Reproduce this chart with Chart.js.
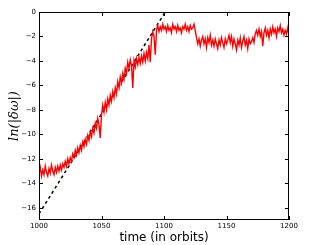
<!DOCTYPE html>
<html>
<head>
<meta charset="utf-8">
<script src="https://cdn.jsdelivr.net/npm/chart.js@4/dist/chart.umd.min.js"></script>
<style>
html,body{margin:0;padding:0;background:#fff;}
#c{display:block;}
</style>
</head>
<body>
<canvas id="c" width="325" height="245"></canvas>
<script>
// ---- data ----
const startOrbit = 1000;
const lnDeltaOmega = [
 -13.2,-12.7,-13.4,-12.9,-13.3,-12.6,-13.1,-13.4,-12.8,-13.2,
 -12.5,-13.0,-13.3,-12.7,-13.1,-12.6,-13.0,-12.5,-12.9,-12.4,
 -12.7,-12.2,-12.6,-12.0,-12.4,-11.9,-12.2,-11.6,-11.9,-11.3,
 -11.7,-11.1,-11.5,-10.9,-11.3,-10.6,-11.0,-10.4,-10.8,-10.1,
 -10.5,-9.8,-10.2,-9.5,-9.9,-9.1,-9.5,-8.7,-9.2,-10.3,
 -8.4,-7.6,-8.2,-7.4,-8.0,-7.1,-7.6,-6.8,-7.3,-6.5,
 -7.0,-6.2,-6.7,-5.7,-6.2,-5.3,-5.8,-5.0,-5.5,-4.6,
 -5.0,-4.1,-4.6,-3.9,-4.4,-6.2,-4.0,-4.5,-3.8,-4.3,
 -3.7,-4.2,-3.6,-4.1,-3.4,-4.0,-3.3,-3.8,-2.7,-4.1,
 -2.2,-1.6,-2.0,-3.5,-1.5,-1.1,-1.6,-1.2,-1.5,-1.0,
 -1.4,-1.2,-1.6,-1.1,-1.5,-1.3,-1.7,-1.0,-1.4,-1.2,
 -1.6,-1.1,-1.5,-1.3,-1.7,-1.2,-1.4,-1.0,-1.5,-1.2,
 -1.6,-1.1,-1.4,-1.3,-1.0,-1.5,-2.1,-2.6,-2.2,-2.8,
 -2.3,-2.0,-2.6,-2.2,-2.9,-2.1,-2.5,-1.9,-2.7,-2.3,
 -2.8,-2.2,-2.6,-3.0,-2.3,-2.7,-2.1,-2.5,-2.9,-2.2,
 -2.6,-2.3,-1.9,-2.5,-2.0,-2.8,-2.2,-2.6,-3.1,-2.3,
 -2.7,-2.1,-2.9,-2.4,-2.0,-2.7,-2.3,-3.0,-2.2,-2.6,
 -2.4,-2.1,-2.5,-1.8,-1.5,-1.9,-1.4,-2.0,-1.6,-2.8,
 -1.7,-1.3,-1.9,-1.5,-2.1,-1.4,-1.8,-1.2,-1.7,-1.4,
 -2.0,-1.3,-1.6,-1.1,-1.7,-1.4,-1.9,-1.5,-1.8,-1.3,
 -1.9
];
const orbitTimes = lnDeltaOmega.map((_, i) => startOrbit + i);
const fitTimes = [1000, 1101];
const fitValues = [-16.5, 0];
const xTicks = [1000, 1050, 1100, 1150, 1200];
const yTicks = [-16, -14, -12, -10, -8, -6, -4, -2, 0];
const xLabel = 'time (in orbits)';
const yLabel = 'ln(|δω|)';

const fmt = v => v < 0 ? '\u2212' + Math.abs(v) : String(v);

const frameTicks = {
  id: 'frameTicks',
  afterDraw(chart) {
    const {ctx, chartArea: a, scales} = chart;
    ctx.save();
    ctx.strokeStyle = '#000';
    ctx.lineWidth = 1;
    ctx.strokeRect(Math.round(a.left) + 0.5, Math.round(a.top) + 0.5,
                   Math.round(a.right - a.left) - 1, Math.round(a.bottom - a.top) - 1);
    const L = 4;
    ctx.beginPath();
    xTicks.forEach(t => {
      const x = Math.round(scales.x.getPixelForValue(t)) + 0.5;
      ctx.moveTo(x, a.bottom); ctx.lineTo(x, a.bottom - L);
      ctx.moveTo(x, a.top); ctx.lineTo(x, a.top + L);
    });
    yTicks.forEach(t => {
      const y = Math.round(scales.y.getPixelForValue(t)) + 0.5;
      ctx.moveTo(a.left, y); ctx.lineTo(a.left + L, y);
      ctx.moveTo(a.right, y); ctx.lineTo(a.right - L, y);
    });
    ctx.stroke();
    ctx.restore();
  }
};

new Chart(document.getElementById('c'), {
  type: 'line',
  data: {
    datasets: [
      {
        data: orbitTimes.map((t, i) => ({x: t, y: lnDeltaOmega[i]})),
        borderColor: '#ff0000',
        borderWidth: 1.4,
        pointRadius: 0,
        tension: 0
      },
      {
        data: fitTimes.map((t, i) => ({x: t, y: fitValues[i]})),
        borderColor: '#000',
        borderWidth: 1.5,
        borderDash: [3, 3],
        pointRadius: 0,
        tension: 0
      }
    ]
  },
  options: {
    responsive: false,
    animation: false,
    devicePixelRatio: 1,
    layout: {padding: {left: 0, right: 36, top: 12, bottom: 0}},
    plugins: {legend: {display: false}, tooltip: {enabled: false}},
    scales: {
      x: {
        type: 'linear',
        min: 1000, max: 1200,
        afterBuildTicks: s => { s.ticks = xTicks.map(v => ({value: v})); },
        afterFit: s => { s.height = 25; },
        grid: {display: false, drawTicks: false, tickLength: 0},
        border: {display: false},
        ticks: {
          font: {family: 'DejaVu Sans', size: 7},
          color: '#000',
          padding: 2,
          maxRotation: 0,
          callback: v => String(v)
        },
        title: {
          display: true,
          text: xLabel,
          font: {family: 'DejaVu Sans', size: 12},
          color: '#000',
          padding: {top: 9, bottom: 0}
        }
      },
      y: {
        type: 'linear',
        min: -17, max: 0,
        afterBuildTicks: s => { s.ticks = yTicks.map(v => ({value: v})); },
        afterFit: s => { s.width = 39; },
        grid: {display: false, drawTicks: false, tickLength: 0},
        border: {display: false},
        ticks: {
          font: {family: 'DejaVu Sans', size: 7},
          color: '#000',
          padding: 3,
          callback: v => fmt(v)
        },
        title: {
          display: true,
          text: yLabel,
          font: {family: 'DejaVu Serif', size: 13, style: 'italic'},
          color: '#000',
          padding: {top: 7, bottom: 0}
        }
      }
    }
  },
  plugins: [frameTicks]
});
</script>
</body>
</html>
